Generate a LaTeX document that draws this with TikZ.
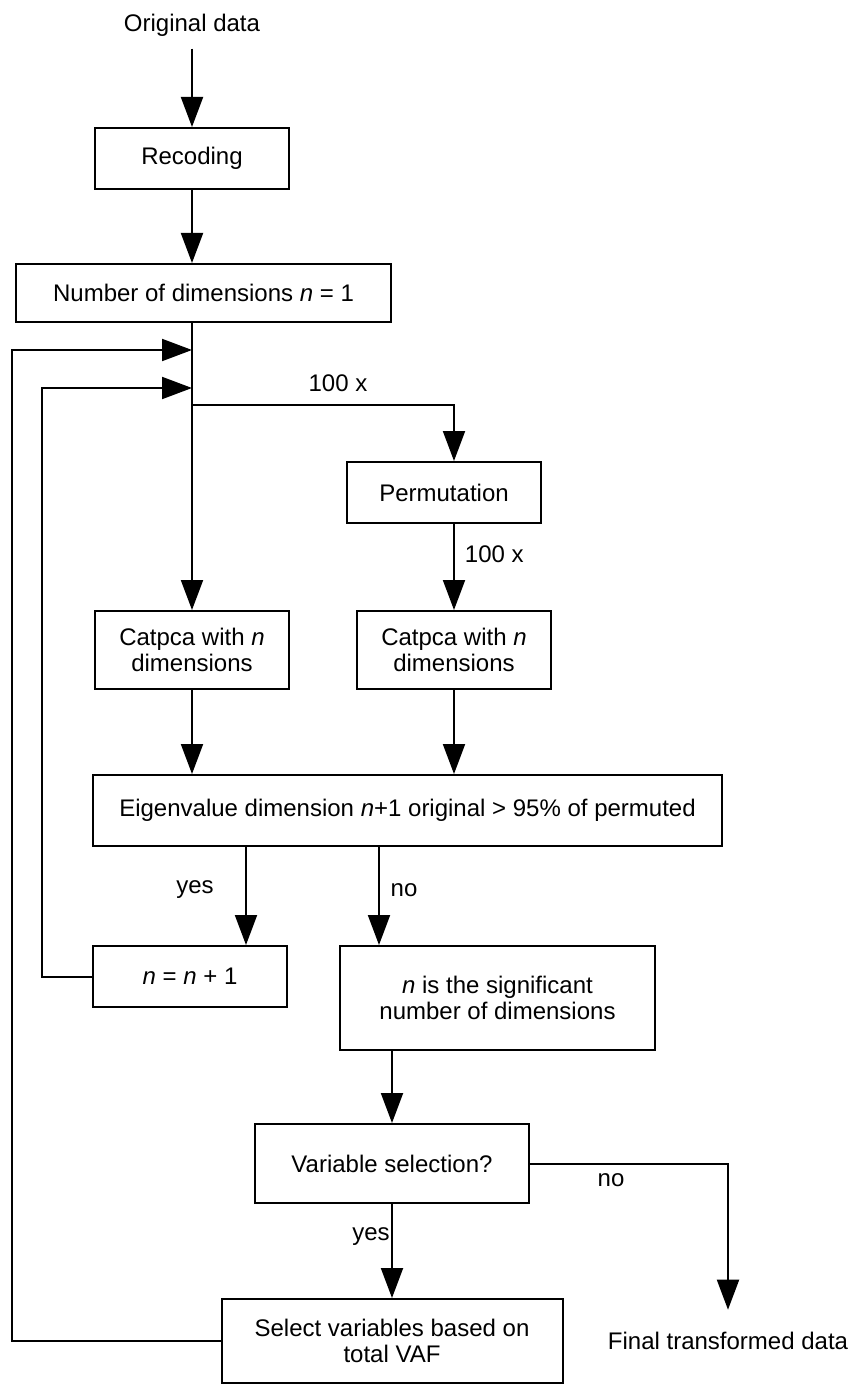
\documentclass[tikz,border=0pt]{standalone}
\usepackage{fontspec}
\setmainfont{Liberation Sans}
\usetikzlibrary{arrows.meta}

\begin{document}
\begin{tikzpicture}[x=0.5pt,y=0.5pt,yscale=-1,xscale=1,
  box/.style={draw, line width=1pt, inner sep=0.75pt, align=center, font=\fontsize{12}{12.8}\selectfont},
  lbl/.style={inner sep=0.75pt, font=\fontsize{12}{12.8}\selectfont},
  arr/.style={line width=1pt, -{Triangle[length=15pt,width=11pt]}}]
%set diagram left start at 0, and has height of 1385
\useasboundingbox (0,0) rectangle (861,1385);

% Text Node
\node[lbl, inner sep=6pt] (orig) at (192,25) {Original data};
%Shape: Rectangle
\node[box, minimum width=97pt, minimum height=30.5pt] (recode) at (192,158.5) {Recoding};
%Shape: Rectangle
\node[box, minimum width=187.5pt, minimum height=29pt] (ndim) at (203.5,293) {Number of dimensions \textit{n} = 1};
%Shape: Rectangle
\node[box, minimum width=97pt, minimum height=30.5pt] (perm) at (444,492.5) {Permutation};
%Shape: Rectangle
\node[box, minimum width=97pt, minimum height=39pt] (catl) at (192,650) {Catpca with \textit{n}\\dimensions};
%Shape: Rectangle
\node[box, minimum width=97pt, minimum height=39pt] (catr) at (454,650) {Catpca with \textit{n}\\dimensions};
%Shape: Rectangle
\node[box, minimum width=314.5pt, minimum height=35.5pt] (eigen) at (407.5,810.5) {Eigenvalue dimension \textit{n}+1 original > 95\% of permuted};
%Shape: Rectangle
\node[box, minimum width=97pt, minimum height=30.5pt] (inc) at (190,976.5) {\textit{n} = \textit{n} + 1};
%Shape: Rectangle
\node[box, minimum width=157.5pt, minimum height=52pt] (sig) at (497.5,998) {\textit{n} is the significant\\number of dimensions};
%Shape: Rectangle
\node[box, minimum width=137pt, minimum height=39.5pt] (varsel) at (392,1163.5) {Variable selection?};
%Shape: Rectangle
\node[box, minimum width=170.5pt, minimum height=42pt] (selvar) at (392,1341) {Select variables based on\\total VAF};
% Text Node
\node[lbl, anchor=base] (final) at (728,1349) {Final transformed data};

% Text Node
\node[lbl] (hundredA) at (338,383) {100 x};
% Text Node
\node[lbl, anchor=west] (hundredB) at (463,554) {100 x};
% Text Node
\node[lbl] (yesA) at (195,890) {yes};
% Text Node
\node[lbl] (noA) at (404,890) {no};
% Text Node
\node[lbl] (noB) at (611,1180) {no};
% Text Node
\node[lbl] (yesB) at (371,1237) {yes};

\coordinate (split) at (192,405);
\coordinate (yescol) at (246,0);
\coordinate (nocol) at (379,0);
\coordinate (loopin) at (42,388);
\coordinate (loopout) at (12,350);

%Straight Lines
\draw[arr] (orig.south) -- (recode.north);
%Straight Lines
\draw[arr] (recode.south) -- (recode.south |- ndim.north);
%Straight Lines
\draw[arr] (recode.south |- ndim.south) -- (catl.north);
%Straight Lines
\draw[arr] (split) -| (perm.north -| catr.north);
%Straight Lines
\draw[arr] (perm.south -| catr.north) -- (catr.north);
%Straight Lines
\draw[arr] (catl.south) -- (catl.south |- eigen.north);
%Straight Lines
\draw[arr] (catr.south) -- (catr.south |- eigen.north);
%Straight Lines
\draw[arr] (eigen.south -| yescol) -- (inc.north -| yescol);
%Straight Lines
\draw[arr] (eigen.south -| nocol) -- (sig.north -| nocol);
%Straight Lines
\draw[arr] (sig.south -| varsel.north) -- (varsel.north);
%Straight Lines
\draw[arr] (varsel.south) -- (selvar.north);
%Straight Lines
\draw[arr, shorten >=10pt] (varsel.east) -| (final.north);
%Straight Lines
\draw[arr] (inc.west) -| (loopin) -- (loopin -| catl.north);
%Straight Lines
\draw[arr] (selvar.west) -| (loopout) -- (loopout -| catl.north);

\end{tikzpicture}
\end{document}
